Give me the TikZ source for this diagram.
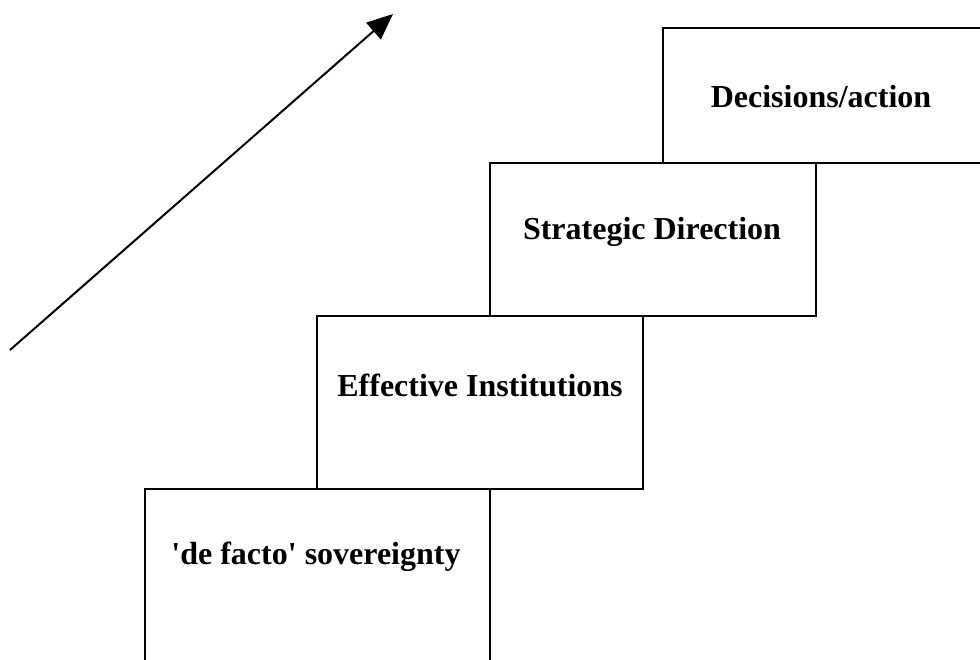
\documentclass[tikz,border=0pt]{standalone}
\usepackage{fontspec}
\setmainfont{Liberation Serif}
\usetikzlibrary{arrows.meta}
\begin{document}
\begin{tikzpicture}[x=1pt,y=-1pt,
  stepline/.style={draw=black,line width=2.2pt},
  lbl/.style={font=\bfseries\fontsize{32}{36}\selectfont,inner sep=0pt}]
\useasboundingbox (0,0) rectangle (980,660);
\begin{scope}
\clip (0,0) rectangle (980,660);
\draw[stepline] (145,670) -- (145,489) -- (490,489) -- (490,670);
\draw[stepline] (317,489) -- (317,316) -- (643,316) -- (643,489) -- cycle;
\draw[stepline] (490,316) -- (490,163) -- (816,163) -- (816,316) -- cycle;
\draw[stepline] (990,28) -- (663,28) -- (663,163) -- (990,163);
\end{scope}
\node[lbl] (s1) at (316,557) {\textquotesingle de facto\textquotesingle\ sovereignty};
\node[lbl] (s2) at (480,385) {Effective Institutions};
\node[lbl] (s3) at (652,232) {Strategic Direction};
\node[lbl] (s4) at (821,97) {Decisions/action};
\coordinate (a0) at (10,350);
\coordinate (a1) at (393,14);
\draw[line width=2pt,-{Triangle[length=26pt,width=22pt]}] (a0) -- (a1);
\end{tikzpicture}
\end{document}
